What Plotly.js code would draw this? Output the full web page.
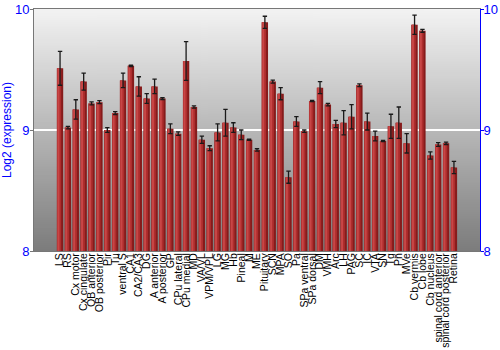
<!DOCTYPE html>
<html>
<head>
<meta charset="utf-8">
<script src="https://cdn.plot.ly/plotly-3.0.1.min.js"></script>
<style>html,body{margin:0;padding:0;background:#fff;}#chart{width:500px;height:350px;}</style>
</head>
<body>
<div id="chart"></div>
<script>
var regions = ["LS","RS","Cx motor","Cx cingulate","OB anterior","OB posterior","Pir","Tu","ventral S","CA1","CA2/CA3","DG","A anterior","A posterior","GP","CPu lateral","CPu medial","MD","VA/VL","VPM/VPL","LG","MG","Hb","Pineal","M","ME","Pituitary","SCN","MPA","SO","Pa","SPa ventral","SPa dorsal","DM","VMH","Arc","LH","PAG","SC","IC","VTA","SN","Tg","Pn","MVe","Cb vermis","Cb lobe","Cb nucleus","spinal cord anterior","spinal cord posterior","Retina"];
var expression = [9.51,9.02,9.17,9.40,9.22,9.23,9.00,9.14,9.41,9.53,9.36,9.26,9.36,9.26,9.01,8.97,9.57,9.19,8.92,8.85,8.98,9.06,9.02,8.96,8.92,8.835,9.89,9.40,9.30,8.61,9.07,8.99,9.24,9.35,9.21,9.05,9.06,9.11,9.37,9.07,8.95,8.91,9.03,9.06,8.89,9.87,9.82,8.79,8.88,8.89,8.69];
var stderr = [0.14,0.01,0.08,0.07,0.012,0.012,0.02,0.012,0.06,0.005,0.08,0.04,0.06,0.008,0.04,0.015,0.16,0.01,0.03,0.02,0.07,0.11,0.04,0.04,0.005,0.01,0.05,0.012,0.05,0.05,0.04,0.01,0.005,0.05,0.01,0.03,0.1,0.1,0.012,0.07,0.04,0.005,0.1,0.13,0.08,0.08,0.012,0.03,0.015,0.01,0.05];
var yTicks = [8,9,10];

// background gradient for plot area
var cv = document.createElement('canvas');
cv.width = 4; cv.height = 256;
var ctx = cv.getContext('2d');
var g = ctx.createLinearGradient(0,0,0,256);
g.addColorStop(0,'#f3f3f3');
g.addColorStop(1,'#7c7c7c');
ctx.fillStyle = g; ctx.fillRect(0,0,4,256);
var bgURL = cv.toDataURL();

var traces = [
  {type:'bar', x:regions, y:expression, width:0.8, marker:{color:'#861b1b', line:{width:0}}, hoverinfo:'x+y', showlegend:false},
  {type:'bar', x:regions, y:expression, width:0.55, offset:-0.4, marker:{color:'#ad2d2d', line:{width:0}}, hoverinfo:'skip', showlegend:false},
  {type:'bar', x:regions, y:expression, width:0.25, offset:-0.33, marker:{color:'#c84646', line:{width:0}}, hoverinfo:'skip', showlegend:false},
  {type:'bar', x:regions, y:expression, width:0.8, marker:{color:'rgba(0,0,0,0)', line:{width:0}},
   error_y:{type:'data', array:stderr, visible:true, color:'#1a1a1a', thickness:1.3, width:2.2},
   hoverinfo:'skip', showlegend:false},
  {type:'scatter', mode:'markers', x:regions, y:expression, yaxis:'y2', marker:{opacity:0}, hoverinfo:'skip', showlegend:false}
];

var layout = {
  width:500, height:350,
  margin:{l:34, r:20, t:9, b:99},
  paper_bgcolor:'#ffffff',
  plot_bgcolor:'#bcbcbc',
  barmode:'overlay',
  font:{family:'Liberation Sans, Arial, sans-serif', color:'#000'},
  images:[{source:bgURL, xref:'paper', yref:'paper', x:0, y:1, sizex:1, sizey:1, sizing:'stretch', layer:'below'}],
  xaxis:{type:'category', tickmode:'array', tickvals:regions, ticktext:regions, tickangle:-90, tickfont:{size:10.5, color:'#000'}, ticklabelstandoff:-3,
    showline:true, linecolor:'#777', mirror:true, ticks:'', showgrid:false, automargin:false},
  yaxis:{range:[8,10], tickmode:'array', tickvals:yTicks, ticktext:yTicks.map(String), tickfont:{size:13, color:'#0000ff'}, showline:true, linecolor:'#777', ticks:'outside', ticklen:3, tickcolor:'#777', ticklabelstandoff:-2,
    showgrid:true, gridcolor:'#ffffff', gridwidth:1.5, zeroline:false, automargin:false,
    title:{text:'Log2 (expression)', font:{size:12, color:'#0000ff'}, standoff:2}},
  yaxis2:{overlaying:'y', side:'right', range:[8,10], tickmode:'array', tickvals:yTicks, ticktext:yTicks.map(String), tickfont:{size:13, color:'#0000ff'}, showline:true, linecolor:'#0000ff', ticks:'outside', ticklen:3, tickcolor:'#0000ff', ticklabelstandoff:-3,
    showgrid:false, zeroline:false, automargin:false}
};

Plotly.newPlot('chart', traces, layout, {displayModeBar:false, staticPlot:true});
</script>
</body>
</html>
